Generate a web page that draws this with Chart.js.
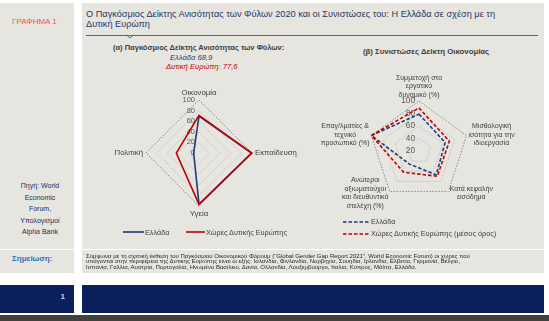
<!DOCTYPE html>
<html lang="el">
<head>
<meta charset="utf-8">
<script src="https://cdn.jsdelivr.net/npm/chart.js@4.4.1/dist/chart.umd.min.js"></script>
<style>
  body { margin: 0; width: 549px; height: 321px; background: #fff; overflow: hidden; position: relative;
         font-family: "Liberation Sans", Arial, sans-serif; }
  .box { position: absolute; background: #e6e5e0; }
  .navy { position: absolute; background: #0a1f5c; }
  .txt { position: absolute; white-space: nowrap; }
  canvas { position: absolute; }
</style>
</head>
<body>
<div class="box" style="left:0;top:3px;width:74px;height:246px"></div>
<div class="box" style="left:82px;top:3px;width:462px;height:246px"></div>
<div class="box" style="left:0;top:250px;width:74px;height:23px"></div>
<div class="box" style="left:82px;top:250px;width:462px;height:23px"></div>
<div class="navy" style="left:0;top:285px;width:74px;height:28px"></div>
<div class="navy" style="left:82px;top:285px;width:462px;height:28px"></div>
<div style="position:absolute;left:0;top:315px;width:549px;height:6px;background:#404040"></div>

<div class="txt" style="left:12px;top:17px;font-size:8px;line-height:10px;color:#e65a4c">ΓΡΑΦΗΜΑ 1</div>
<div class="txt" style="left:86px;top:9px;font-size:9.2px;line-height:10px;color:#1f3864">Ο Παγκόσμιος Δείκτης Ανισότητας των Φύλων 2020 και οι Συνιστώσες του: Η Ελλάδα σε σχέση με τη<br>Δυτική Ευρώπη</div>
<div style="position:absolute;left:86px;top:35px;width:452px;height:1px;background:#4a6a96"></div>
<svg style="position:absolute;left:126px;top:34px" width="8" height="5"><polyline points="0.5,1 4,4 7.5,1" fill="none" stroke="#4a6a96" stroke-width="1"/></svg>

<div class="txt" style="left:0;top:180px;width:80px;text-align:center;font-size:7px;line-height:11.6px;color:#1f2d56">Πηγή: World<br>Economic<br>Forum,<br>Υπολογισμοί<br>Alpha Bank</div>

<div class="txt" style="left:113px;top:43px;font-size:7.5px;line-height:10px;font-weight:bold;color:#404040">(α) Παγκόσμιος Δείκτης Ανισότητας των Φύλων:</div>
<div class="txt" style="left:170px;top:52.5px;font-size:7.6px;line-height:10px;font-style:italic;color:#1f3a7a">Ελλάδα 68,9</div>
<div class="txt" style="left:166px;top:62px;font-size:7.6px;line-height:10px;font-style:italic;color:#c00000">Δυτική Ευρώπη: 77,6</div>
<div class="txt" style="left:363px;top:47px;font-size:7.8px;line-height:10px;font-weight:bold;color:#404040">(β) Συνιστώσες Δείκτη Οικονομίας</div>

<canvas id="radarA" width="218" height="160" style="left:90px;top:70px"></canvas>
<canvas id="radarB" width="240" height="150" style="left:300px;top:65px"></canvas>

<svg style="position:absolute;left:123px;top:230px" width="21" height="4"><line x1="0" y1="2" x2="21" y2="2" stroke="#1f3a7a" stroke-width="1.6"/></svg>
<div class="txt" style="left:145px;top:227.5px;font-size:7.3px;line-height:10px;color:#404040">Ελλάδα</div>
<svg style="position:absolute;left:186px;top:230px" width="19" height="4"><line x1="0" y1="2" x2="19" y2="2" stroke="#c00000" stroke-width="1.6"/></svg>
<div class="txt" style="left:206px;top:227.5px;font-size:7.3px;line-height:10px;color:#404040">Χώρες Δυτικής Ευρώπης</div>

<svg style="position:absolute;left:343px;top:219.5px" width="27" height="4"><line x1="0" y1="2" x2="27" y2="2" stroke="#1f3a7a" stroke-width="1.6" stroke-dasharray="3.5,2"/></svg>
<div class="txt" style="left:371px;top:216.5px;font-size:7.3px;line-height:10px;color:#404040">Ελλάδα</div>
<svg style="position:absolute;left:343px;top:232px" width="27" height="4"><line x1="0" y1="2" x2="27" y2="2" stroke="#c00000" stroke-width="1.6" stroke-dasharray="3.5,2"/></svg>
<div class="txt" style="left:371px;top:229px;font-size:7.3px;line-height:10px;color:#404040">Χώρες Δυτικής Ευρώπης (μέσος όρος)</div>

<div class="txt" style="left:12px;top:254px;font-size:8px;line-height:10px;font-weight:bold;color:#2e74b5">Σημείωση:</div>
<div class="txt" style="left:86px;top:253.5px;font-size:6px;line-height:5.9px;color:#262626">Σύμφωνα με τη σχετική έκθεση του Παγκόσμιου Οικονομικού Φόρουμ (“Global Gender Gap Report 2021”, World Economic Forum) οι χώρες που<br>υπάγονται στην περιφέρεια της Δυτικής Ευρώπης είναι οι εξής: Ισλανδία, Φινλανδία, Νορβηγία, Σουηδία, Ιρλανδία, Ελβετία, Γερμανία, Βέλγιο,<br>Ισπανία, Γαλλία, Αυστρία, Πορτογαλία, Ηνωμένο Βασίλειο, Δανία, Ολλανδία, Λουξεμβούργο, Ιταλία, Κύπρος, Μάλτα, Ελλάδα.</div>

<div class="txt" style="left:40px;top:292px;width:25px;text-align:right;font-size:8px;line-height:10px;font-weight:bold;color:#c9d2e6">1</div>

<script>
// (α) Παγκόσμιος δείκτης
const axonesA = ['Οικονομία', 'Εκπαίδευση', 'Υγεία', 'Πολιτική'];
const elladaA = [69.5, 99.1, 96.9, 10.1];
const dytikiA = [71.0, 99.6, 97.0, 42.8];
const ticksA = [0, 20, 40, 60, 80, 100];

// (β) Συνιστώσες δείκτη οικονομίας
const axonesB = [
    ['Συμμετοχή στο', 'εργατικό', 'δυναμικό (%)'],
    ['Μισθολογική', 'ισότητα για την', 'ιδιοεργασία'],
    ['Κατά κεφαλήν', 'εισόδημα'],
    ['Ανώτεροι', 'αξιωματούχοι', 'και διευθυντικά', 'στελέχη (%)'],
    ['Επαγ/λματίες &', 'τεχνικό', 'προσωπικό (%)']
];
const elladaB = [79, 64, 67, 46, 100];
const dytikiB = [89, 71, 70, 62, 100];
const ticksB = [20, 40, 60, 80, 100];

const MPLE = '#1f3a7a';
const KOKKINO = '#c00000';

// Ετικέτες αξόνων και κλίμακας, σαν το Excel
const etiketes = {
    id: 'etiketes',
    beforeDatasetsDraw(chart, args, opts) {
        const s = chart.scales.r;
        const ctx = chart.ctx;
        ctx.save();
        ctx.font = opts.tickFont;
        ctx.fillStyle = '#595959';
        ctx.textAlign = 'right';
        ctx.textBaseline = 'middle';
        opts.ticks.forEach(v => {
            ctx.fillText(String(v), s.xCenter - opts.tickGap, s.yCenter - s.getDistanceFromCenterForValue(v));
        });

        ctx.font = opts.labelFont;
        ctx.fillStyle = '#404040';
        ctx.textAlign = 'center';
        const lh = opts.lineHeight;
        chart.data.labels.forEach((lab, i) => {
            const grammes = [].concat(lab);
            const p = s.getPointPosition(i, s.drawingArea + opts.pad);
            const w = Math.max(...grammes.map(g => ctx.measureText(g).width));
            const h = grammes.length * lh;
            let cx = p.x, top = p.y - h / 2;
            if (Math.abs(p.x - s.xCenter) > 2) {
                cx = p.x > s.xCenter ? p.x + w / 2 : p.x - w / 2;
            } else {
                top = p.y < s.yCenter ? p.y - h : p.y;
            }
            grammes.forEach((g, k) => ctx.fillText(g, cx, top + lh * (k + 0.5)));
        });
        ctx.restore();
    }
};

function ftiaxeRadar(id, labels, ellada, dytiki, ticks, extra) {
    const teleutaio = ticks.length - 1;
    return new Chart(document.getElementById(id), {
        type: 'radar',
        data: {
            labels: labels,
            datasets: [
                { label: 'Χώρες Δυτικής Ευρώπης', data: dytiki, borderColor: KOKKINO, order: 0,
                  borderWidth: extra.width, borderDash: extra.dash, pointRadius: 0, fill: false },
                { label: 'Ελλάδα', data: ellada, borderColor: MPLE, order: 1,
                  borderWidth: extra.width, borderDash: extra.dash, pointRadius: 0, fill: false }
            ]
        },
        options: {
            responsive: false,
            animation: false,
            layout: { padding: extra.padding },
            plugins: {
                legend: { display: false },
                tooltip: { enabled: false },
                etiketes: extra.etiketes
            },
            scales: {
                r: {
                    min: ticks[0],
                    max: ticks[teleutaio],
                    ticks: { display: false, stepSize: 20 },
                    pointLabels: { display: false },
                    angleLines: { display: false },
                    grid: {
                        color: c => c.index === teleutaio ? '#8a8a8a' : '#d3d2cd',
                        lineWidth: 1
                    },
                    border: { dash: c => c.index === teleutaio ? [1.5, 1.5] : [] }
                }
            }
        },
        plugins: [etiketes]
    });
}

ftiaxeRadar('radarA', axonesA, elladaA, dytikiA, ticksA, {
    width: 1.6, dash: [],
    padding: { left: 55.5, right: 55.5, top: 30, bottom: 23 },
    etiketes: { ticks: ticksA, tickFont: '7.5px "Liberation Sans"', tickGap: 4,
                labelFont: '7.8px "Liberation Sans"', lineHeight: 9, pad: 3 }
});

ftiaxeRadar('radarB', axonesB, elladaB, dytikiB, ticksB, {
    width: 1.6, dash: [3.5, 2],
    padding: { left: 69, right: 71, top: 36, bottom: 14 },
    etiketes: { ticks: ticksB, tickFont: '8.3px "Liberation Sans"', tickGap: 4,
                labelFont: '7px "Liberation Sans"', lineHeight: 8.5, pad: 2 }
});
</script>
</body>
</html>
